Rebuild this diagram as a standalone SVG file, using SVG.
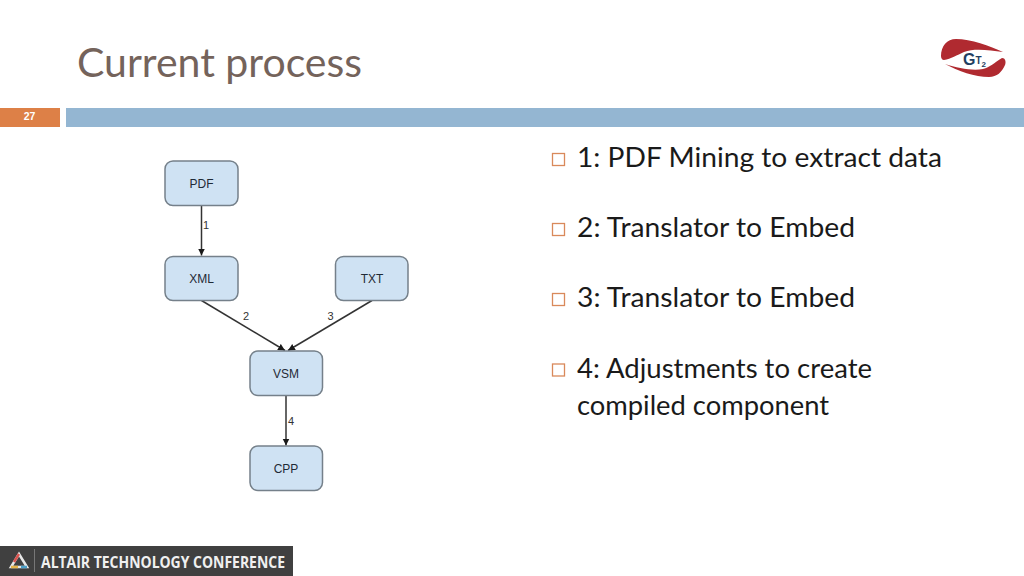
<svg xmlns="http://www.w3.org/2000/svg" width="1024" height="576" viewBox="0 0 1024 576">
<style>
.n{fill:#cfe2f3;stroke:#75808a;stroke-width:1.5}
.nt{font:12px "Liberation Sans",Arial,sans-serif;fill:#1f2a36;text-anchor:middle}
.e{stroke:#333;stroke-width:1.5;fill:none;marker-end:url(#a)}
.el{font:11px "Liberation Sans",Arial,sans-serif;fill:#333;text-anchor:middle}
.b{font:27px Lato,"Open Sans",sans-serif;fill:#1a1a1a}
.cb{fill:none;stroke:#d9895a;stroke-width:1.3}
</style>
<defs><marker id="a" markerUnits="userSpaceOnUse" markerWidth="8" markerHeight="8" refX="7" refY="3.500" orient="auto"><path d="M0 0L7 3.500L0 7z" fill="#1a1a1a"/></marker></defs>
<rect width="1024" height="576" fill="#fff"/>
<text x="77" y="77" font-family="Lato,'Open Sans',sans-serif" font-size="41" fill="#74635b" textLength="285" lengthAdjust="spacingAndGlyphs">Current process</text>
<rect x="0" y="108" width="60" height="19" fill="#dd8047"/>
<text x="29.500" y="120" font-family="'Liberation Sans',sans-serif" font-size="10.500" font-weight="700" fill="#fff" text-anchor="middle">27</text>
<rect x="66" y="108" width="958" height="19" fill="#94b6d2"/>
<g id="logo">
<path d="M941 56C941 46 947 39 956 39C971 39 990 46 1003 52C989 50 974 48 964 52C957 55 951 59 944 60C942 60 941 58 941 56Z" fill="#b02a30"/>
<path d="M945 64C958 68 972 71 983 69C990 67 994 63 1002 58C1006 58 1006 63 1005 65C1002 72 997 77 989 77C975 77 958 71 945 64Z" fill="#b02a30"/>
<text x="963" y="65" font-family="'Liberation Sans',sans-serif" font-size="16" font-weight="700" fill="#1f3f63">G<tspan font-size="10" dy="-1">T</tspan><tspan font-size="8" dy="3">2</tspan></text>
</g>
<g id="connectors">
<path class="e" d="M201.500 205.500V255.500"/>
<path class="e" d="M201.500 300.500L285 350.500"/>
<path class="e" d="M372 300.500L288 350.500"/>
<path class="e" d="M286 395.500V445.500"/>
<text class="el" x="206" y="229">1</text>
<text class="el" x="246" y="320">2</text>
<text class="el" x="330.500" y="320">3</text>
<text class="el" x="291" y="425">4</text>
</g>
<g id="pdf"><rect class="n" x="165" y="161" width="73" height="44.500" rx="8"/><text class="nt" x="201.500" y="187.500">PDF</text></g>
<g id="xml"><rect class="n" x="165" y="256.500" width="73" height="44" rx="8"/><text class="nt" x="201.500" y="282.500">XML</text></g>
<g id="txt"><rect class="n" x="335.500" y="256.500" width="72.500" height="44" rx="8"/><text class="nt" x="372" y="282.500">TXT</text></g>
<g id="vsm"><rect class="n" x="250" y="351" width="72.500" height="44.500" rx="8"/><text class="nt" x="286" y="377.500">VSM</text></g>
<g id="cpp"><rect class="n" x="250" y="446" width="72.500" height="44.500" rx="8"/><text class="nt" x="286" y="472.500">CPP</text></g>
<g id="bullets">
<rect class="cb" x="552.500" y="153.500" width="12" height="12"/>
<text class="b" x="577" y="167" textLength="365" lengthAdjust="spacingAndGlyphs">1: PDF Mining to extract data</text>
<rect class="cb" x="552.500" y="223.500" width="12" height="12"/>
<text class="b" x="577" y="237" textLength="278" lengthAdjust="spacingAndGlyphs">2: Translator to Embed</text>
<rect class="cb" x="552.500" y="293.500" width="12" height="12"/>
<text class="b" x="577" y="307" textLength="278" lengthAdjust="spacingAndGlyphs">3: Translator to Embed</text>
<rect class="cb" x="552.500" y="364" width="12" height="12"/>
<text class="b" x="577" y="377.500" textLength="295" lengthAdjust="spacingAndGlyphs">4: Adjustments to create</text>
<text class="b" x="577" y="414.500" textLength="252" lengthAdjust="spacingAndGlyphs">compiled component</text>
</g>
<g id="footer">
<rect x="0" y="546" width="293" height="30" fill="#404040"/>
<path d="M19 554L27 567L11 567Z" fill="none" stroke="#e8e8e8" stroke-width="2.500"/>
<path d="M11 567L18 567" stroke="#e8b64a" stroke-width="2.500"/>
<path d="M21 567L27 567" stroke="#4a9fc8" stroke-width="2.500"/>
<path d="M19 554L14 562" stroke="#d9534f" stroke-width="2.500"/>
<path d="M34.500 549V572" stroke="#777" stroke-width="1"/>
<text x="41" y="568" font-family="'Open Sans','Liberation Sans',sans-serif" font-size="16.500" font-weight="700" fill="#f0f0f0" textLength="244" lengthAdjust="spacingAndGlyphs">ALTAIR TECHNOLOGY CONFERENCE</text>
</g>
</svg>
